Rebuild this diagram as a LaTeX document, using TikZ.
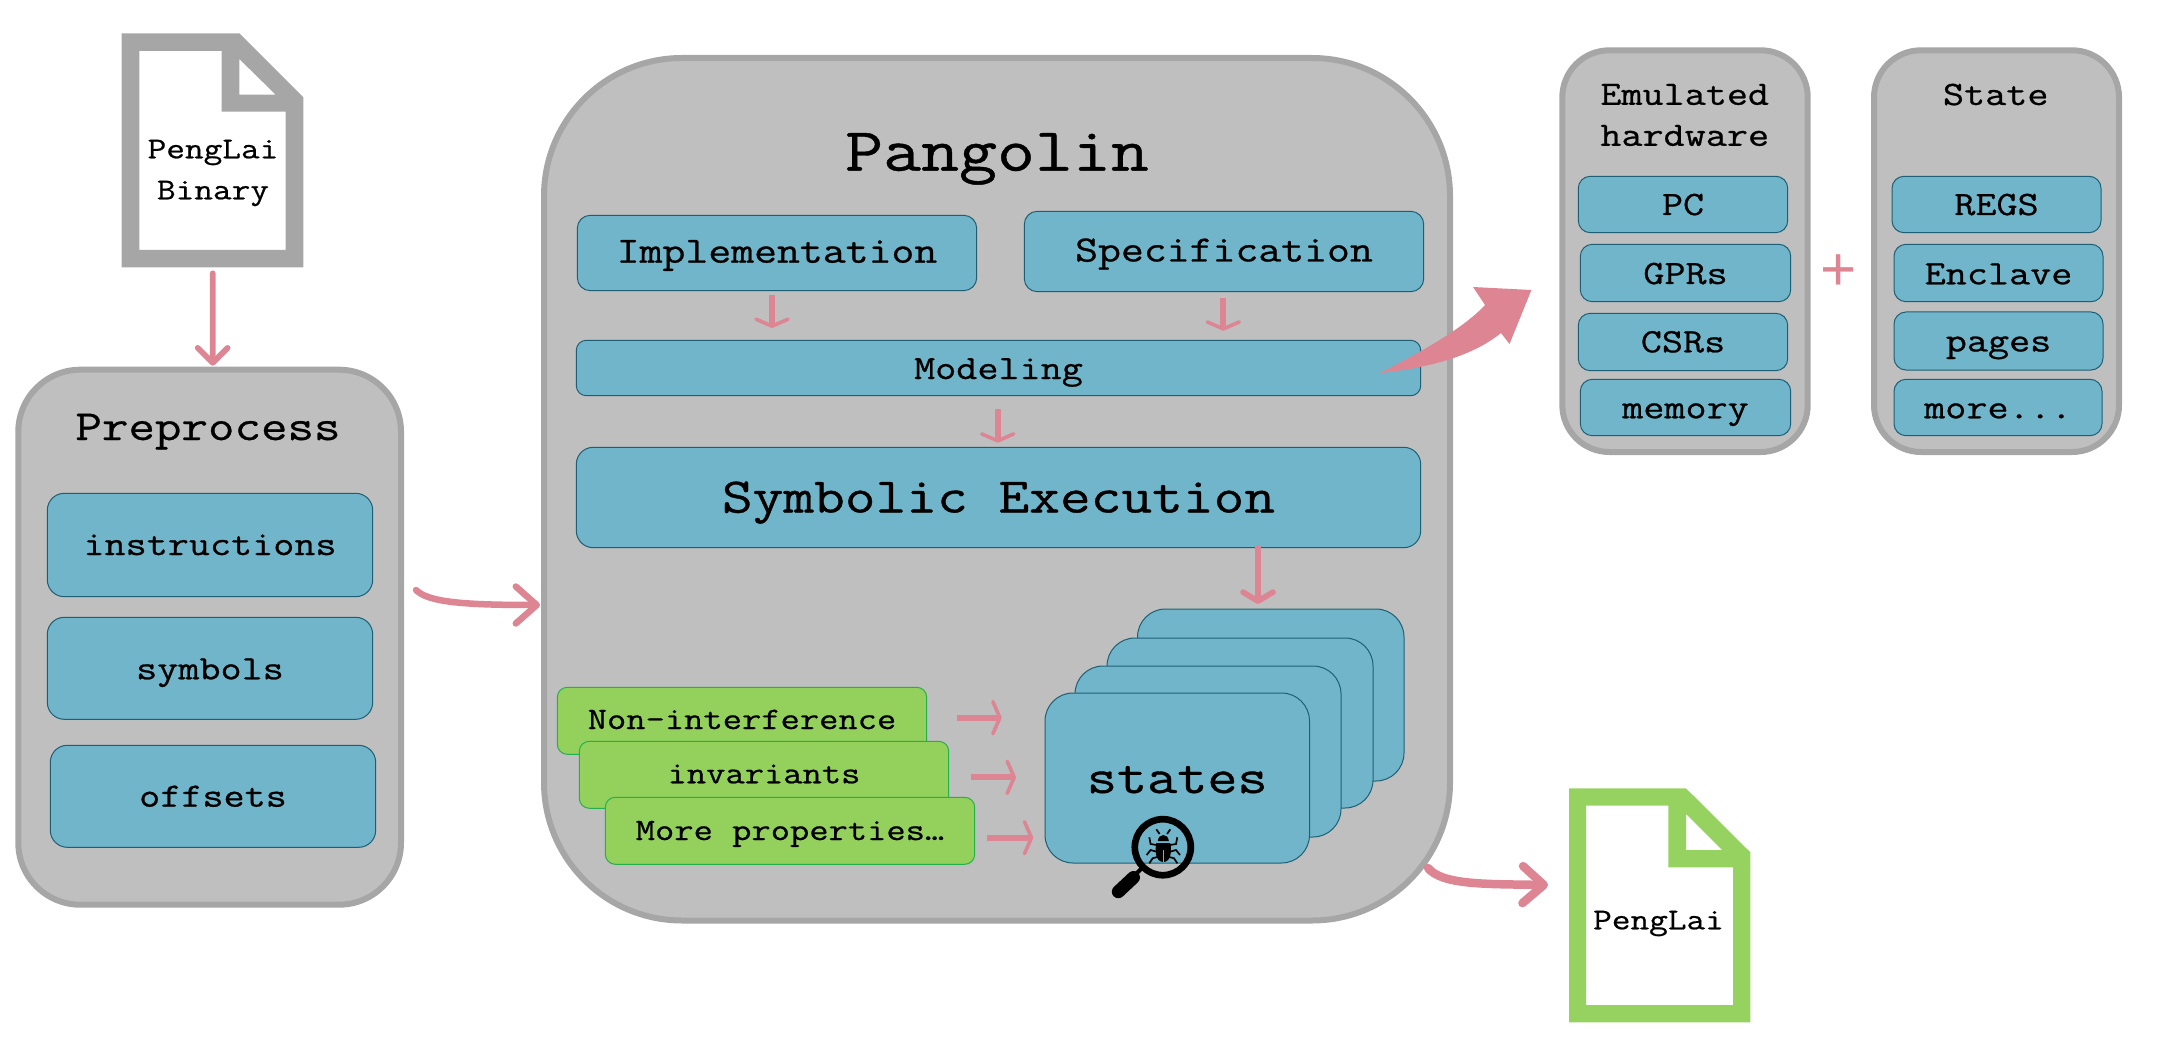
\documentclass[tikz,border=0pt]{standalone}
\usepackage{fontspec}
\usetikzlibrary{arrows.meta,calc}
\newfontfamily\cour[Scale=0.975,FakeStretch=1.2,FakeBold=0.7]{Latin Modern Mono}
\newfontfamily\plusfont{Liberation Sans}
\definecolor{panelfill}{HTML}{BFBFBF}
\definecolor{panelline}{HTML}{A6A6A6}
\definecolor{bluefill}{HTML}{71B5CA}
\definecolor{blueline}{HTML}{1F5F75}
\definecolor{pinkc}{HTML}{DD8593}
\definecolor{greenfill}{HTML}{93D15C}
\definecolor{greenline}{HTML}{22B14C}
\definecolor{docgreen}{HTML}{96D260}
\newcommand\fs[1]{\cour\fontsize{#1}{#1}\selectfont}
\newcommand\fsl[2]{\cour\fontsize{#1}{#2}\selectfont}
% \bx{name}{x1}{y1}{x2}{y2}{style}{text}
\newcommand\bx[7]{%
  \pgfmathsetmacro\cxv{(#2+#4)/2}\pgfmathsetmacro\cyv{(#3+#5)/2}%
  \pgfmathsetmacro\wv{#4-#2}\pgfmathsetmacro\hv{#5-#3}%
  \node[minimum width=\wv pt,minimum height=\hv pt,#6] (#1) at (\cxv,\cyv) {#7};}
\tikzset{
  base box/.style={rectangle,inner sep=0pt,outer sep=0pt,text=black},
  panel/.style={base box,draw=panelline,fill=panelfill,line width=6pt,rounded corners=#1},
  bluebox/.style={base box,draw=blueline,fill=bluefill,line width=1pt,rounded corners=#1},
  greenbox/.style={base box,draw=greenline,fill=greenfill,line width=1pt,rounded corners=10pt},
  bl/.style={text height=#1pt,text depth=0pt},
  small arrow/.style={draw=pinkc,line width=6pt,-{Straight Barb[length=7pt,width=32pt,line width=3.6pt,round]}},
  barb arrow/.style={draw=pinkc,line width=5.7pt,line cap=round,-{Straight Barb[length=#1,width=30pt,line width=5.7pt,round]}},
  big barb/.style={draw=pinkc,line width=#1,line cap=round,-{Straight Barb[length=21pt,width=37pt,line width=#1,round]}},
  title/.style={anchor=base,inner sep=0pt,text=black},
}
\begin{document}
\begin{tikzpicture}[x=1pt,y=-1pt]
\useasboundingbox (0,0) rectangle (2170,1064);
% binary document
\fill[panelline,even odd rule]
  (121.7,33.3) -- (239.3,33.3) -- (303.3,97.3) -- (303.3,267.3) -- (121.7,267.3) -- cycle
  (139.3,51) -- (221.7,51) -- (221.7,111.7) -- (285.7,111.7) -- (285.7,250) -- (139.3,250) -- cycle
  (239.3,59) -- (239.3,94.7) -- (275.7,94.7) -- cycle;
\coordinate (binbottom) at (212.7,267.3);
\node[inner sep=0pt,align=center,font={\fsl{31}{41}}] (bintext) at (213,173) {PengLai\\Binary};
% final document
\fill[docgreen,even odd rule]
  (1569,788.3) -- (1686,788.3) -- (1750.3,852.3) -- (1750.3,1022.3) -- (1569,1022.3) -- cycle
  (1586,805.7) -- (1668.3,805.7) -- (1668.3,867.3) -- (1733,867.3) -- (1733,1005) -- (1586,1005) -- cycle
  (1686,814) -- (1686,850) -- (1722,850) -- cycle;
\coordinate (finalleft) at (1569,885);
\node[title,font=\fs{31}] (finaltext) at (1658.5,929.3) {PengLai};
% Preprocess panel
\bx{pre}{18.3}{369.7}{401}{904.7}{panel=62pt}{}
\node[title,font=\fs{44}] (pretitle) at (208,440) {Preprocess};
\bx{instr}{47.3}{493.3}{372.7}{596.7}{bluebox=17pt,bl=20,font=\fs{35}}{instructions}
\bx{symb}{47.3}{617.3}{372.7}{719.3}{bluebox=17pt,bl=22,font=\fs{35}}{symbols}
\bx{offs}{50.3}{745.3}{375.7}{847.3}{bluebox=17pt,bl=20.8,font=\fs{35}}{offsets}
% Pangolin panel
\bx{pang}{544}{58}{1450}{920.5}{panel=138pt}{}
\node[title,font=\fs{63}] (pangtitle) at (997,170.7) {Pangolin};
\bx{impl}{577.3}{215.3}{976.7}{290.7}{bluebox=13pt,bl=19.4,font=\fs{38}}{Implementation}
\bx{spec}{1024.3}{211.3}{1423.7}{291.7}{bluebox=13pt,bl=20,font=\fs{38}}{Specification}
\bx{model}{576.3}{340.3}{1420.7}{395.7}{bluebox=10pt,bl=22,font=\fs{35}}{Modeling}
\bx{symex}{576.3}{447.3}{1420.7}{547.7}{bluebox=17pt,bl=30,font=\fs{51}}{Symbolic Execution}
% stacked states
\bx{st1}{1137.5}{609}{1404}{781}{bluebox=28pt}{}
\bx{st2}{1107}{638}{1373}{808}{bluebox=28pt}{}
\bx{st3}{1075}{666}{1341}{837}{bluebox=28pt}{}
\bx{st4}{1045}{693}{1309.5}{863}{bluebox=28pt,bl=30,font=\fs{50}}{states}
% properties
\bx{g1}{557.3}{687.3}{926.7}{754.3}{greenbox,bl=16.4,font=\fs{32}}{Non-interference}
\bx{g2}{579.3}{741.3}{948.7}{808.3}{greenbox,bl=17,font=\fs{32}}{invariants}
\bx{g3}{605.3}{797.3}{974.7}{864.3}{greenbox,bl=18.4,font=\fs{32}}{More properties…}
% magnifier and bug
\draw[black,line width=6.7pt] (1162.8,847.2) circle (28pt);
\draw[black,line width=4pt] (1143,867) -- (1135,875);
\draw[black,line width=13pt,line cap=round] (1133.5,877.5) -- (1118.3,891.7);
\begin{scope}[shift={(1163.3,0)}]
  \fill[black] (-5.5,841) .. controls (-5,833) and (5,833) .. (5.5,841) -- cycle;
  \fill[black] (-7,843) -- (7,843) .. controls (8.5,850) and (8,862) .. (0,862) .. controls (-8,862) and (-8.5,850) .. (-7,843) -- cycle;
  \draw[bluefill,line width=1pt] (0,850) -- (0,862);
  \foreach \s in {-1,1} {
    \draw[black,line width=1.7pt] (\s*3.7,834) -- (\s*7,829.3);
    \draw[black,line width=1.7pt] (\s*6.7,845) -- (\s*12.7,844) -- (\s*14,837.3);
    \draw[black,line width=1.7pt] (\s*6.7,851.7) -- (\s*12.7,850) -- (\s*16.7,855);
    \draw[black,line width=1.7pt] (\s*5,856.7) -- (\s*10.7,858.3) -- (\s*14,863.3);
  }
\end{scope}
% right panels
\bx{hw}{1562.3}{50.3}{1807.7}{452}{panel=47pt}{}
\node[inner sep=0pt,align=center,font={\fsl{35}{41}}] (hwtitle) at (1684.7,115) {Emulated\\hardware};
\bx{pc}{1578.3}{176.3}{1787.7}{232.7}{bluebox=12pt,bl=21,font=\fs{35}}{PC}
\bx{gprs}{1580.3}{244.3}{1790.7}{301.7}{bluebox=12pt,bl=22,font=\fs{35}}{GPRs}
\bx{csrs}{1578.3}{313.3}{1787.7}{370.7}{bluebox=12pt,bl=20.6,font=\fs{35}}{CSRs}
\bx{mem}{1580.3}{379.3}{1790.7}{435.7}{bluebox=12pt,bl=21.6,font=\fs{35}}{memory}
\bx{stp}{1874}{50.3}{2119}{452}{panel=47pt}{}
\node[title,font=\fs{35}] (sttitle) at (1995.7,105) {State};
\bx{regs}{1892}{176.3}{2101}{232.7}{bluebox=12pt,bl=21,font=\fs{35}}{REGS}
\bx{encl}{1894}{244.3}{2103}{301.7}{bluebox=12pt,bl=22.6,font=\fs{35}}{Enclave}
\bx{pages}{1894}{312}{2103}{370}{bluebox=12pt,bl=21,font=\fs{35}}{pages}
\bx{more}{1894}{379.3}{2102}{435.7}{bluebox=12pt,bl=21.6,font=\fs{35}}{more...}
\node[inner sep=0pt,text=pinkc,font=\plusfont\fontsize{62}{62}\selectfont] (plus) at (1838.6,272.7) {+};
% connectors
\draw[barb arrow=15pt] ([yshift=-6pt]binbottom) -- ([xshift=3pt,yshift=4pt]pre.north);
\draw[big barb=6.5pt] ([xshift=15pt,yshift=47.2pt]pre.east) .. controls ([xshift=27pt,yshift=35.2pt]pre.east) and ([xshift=61pt,yshift=32.2pt]pre.east) .. ([xshift=-4pt,yshift=-115.75pt]pang.west);
\draw[small arrow] ([xshift=-5pt,yshift=-4.3pt]impl.south) -- ([xshift=-226.5pt,yshift=12.3pt]model.north);
\draw[small arrow] ([xshift=-0.7pt,yshift=-6pt]spec.south) -- ([xshift=224.8pt,yshift=9.6pt]model.north);
\draw[small arrow] ([xshift=-0.8pt,yshift=-13.6pt]model.south) -- ([xshift=-0.8pt,yshift=4.6pt]symex.north);
\draw[barb arrow=9pt] ([xshift=259.5pt]symex.south) -- ([xshift=-12.75pt,yshift=5pt]st1.north);
\draw[small arrow] ([xshift=30pt,yshift=3.1pt]g1.east) -- ([xshift=-43.3pt,yshift=60.3pt]st4.west);
\draw[small arrow] ([xshift=22pt,yshift=-2.5pt]g2.east) -- ([xshift=-29pt,yshift=0.7pt]st4.west);
\draw[small arrow] ([xshift=12.6pt,yshift=-6.9pt]g3.east) -- ([xshift=-11.7pt,yshift=-59.7pt]st4.west);
\draw[big barb=8.5pt] ([xshift=-22pt,yshift=52.5pt]pang.south east) .. controls ([xshift=-8pt,yshift=35.5pt]pang.south east) and ([xshift=35pt,yshift=36.5pt]pang.south east) .. ([xshift=-21pt]finalleft);
\fill[pinkc] (1379.3,373.3) .. controls (1415,355) and (1462,330) .. (1485,305)
  -- (1473,287) -- (1531.4,290) -- (1509.5,344) -- (1501,333)
  .. controls (1470,358) and (1425,368) .. cycle;
\end{tikzpicture}
\end{document}
